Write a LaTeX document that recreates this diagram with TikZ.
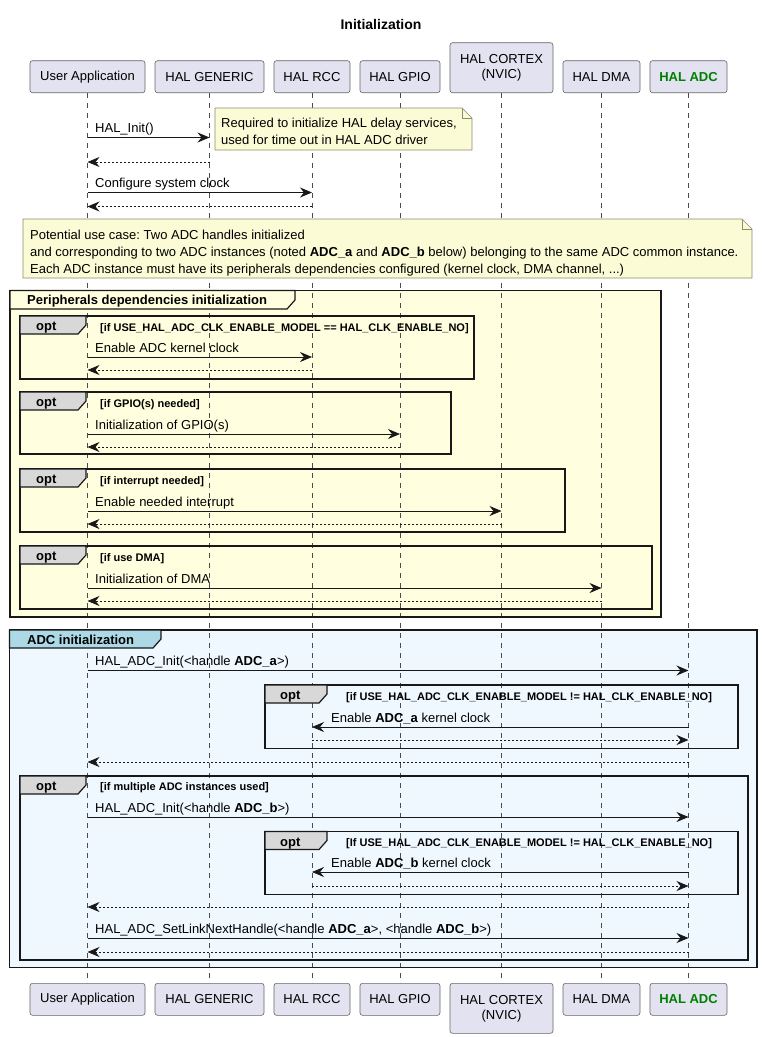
\documentclass[tikz,border=0pt]{standalone}
\usepackage{fontspec}
\setmainfont{Liberation Sans}
\usetikzlibrary{arrows.meta}
\frenchspacing

\definecolor{partfill}{HTML}{E2E2F0}
\definecolor{linegray}{HTML}{181818}
\definecolor{notefill}{HTML}{FBFBD5}
\definecolor{noteline}{HTML}{8C8C6E}
\definecolor{peripfill}{HTML}{FFFFE0}
\definecolor{adcfill}{HTML}{F0F8FF}
\definecolor{adctab}{HTML}{ADD8E6}
\definecolor{opttab}{HTML}{D8D8D8}
\definecolor{adcgreen}{HTML}{008000}

\begin{document}
\begin{tikzpicture}[x=1pt,y=-1pt,
  part/.style={draw=black!60, line width=0.6pt, fill=partfill, rounded corners=2.5pt,
    inner sep=0pt, minimum height=32pt, align=center, font=\fontsize{13}{15}\selectfont},
  life/.style={draw=black!70, line width=0.5pt, dash pattern=on 5pt off 5pt},
  call/.style={draw=linegray, line width=0.8pt, -{Stealth[length=12pt,width=10pt,inset=4pt]}},
  back/.style={call, dash pattern=on 2pt off 2pt},
  lbl/.style={anchor=base west, inner sep=0pt, font=\fontsize{13}{15}\selectfont},
  cond/.style={anchor=base west, inner sep=0pt, font=\fontsize{11}{13}\selectfont\bfseries},
  tabtext/.style={anchor=base west, inner sep=0pt, font=\fontsize{13}{15}\selectfont\bfseries},
  note/.style={draw=noteline, line width=0.6pt, fill=notefill},
  frame/.style={draw=linegray, line width=1.7pt},
  tab/.style={draw=linegray, line width=1.2pt}
]
  \useasboundingbox (0,0) rectangle (762,1037);

  \node[font=\fontsize{14}{16}\selectfont\bfseries] (title) at (381,24) {Initialization};

  % participants, top row
  \node[part, anchor=south, minimum width=115pt] (ua)     at (87.5,93)  {User Application};
  \node[part, anchor=south, minimum width=109pt] (gen)    at (209.5,93) {HAL GENERIC};
  \node[part, anchor=south, minimum width=76pt]  (rcc)    at (312,93)   {HAL RCC};
  \node[part, anchor=south, minimum width=80pt]  (gpio)   at (400,93)   {HAL GPIO};
  \node[part, anchor=south, minimum width=103pt, minimum height=50pt] (cortex) at (501.5,93) {HAL CORTEX\\(NVIC)};
  \node[part, anchor=south, minimum width=77pt]  (dma)    at (601.5,93) {HAL DMA};
  \node[part, anchor=south, minimum width=77pt, text=adcgreen, font=\fontsize{13}{15}\selectfont\bfseries] (adc) at (688.5,93) {HAL ADC};

  % participants, bottom row
  \node[part, anchor=north, minimum width=115pt] (ua2)     at (87.5,983)  {User Application};
  \node[part, anchor=north, minimum width=109pt] (gen2)    at (209.5,983) {HAL GENERIC};
  \node[part, anchor=north, minimum width=76pt]  (rcc2)    at (312,983)   {HAL RCC};
  \node[part, anchor=north, minimum width=80pt]  (gpio2)   at (400,983)   {HAL GPIO};
  \node[part, anchor=north, minimum width=103pt, minimum height=50pt] (cortex2) at (501.5,983) {HAL CORTEX\\(NVIC)};
  \node[part, anchor=north, minimum width=77pt]  (dma2)    at (601.5,983) {HAL DMA};
  \node[part, anchor=north, minimum width=77pt, text=adcgreen, font=\fontsize{13}{15}\selectfont\bfseries] (adc2) at (688.5,983) {HAL ADC};

  % group backgrounds
  \fill[peripfill] (10,290.5) rectangle (661,617);
  \fill[adcfill] (9.5,630) rectangle (757,967.5);

  % lifelines
  \foreach \p in {ua,gen,rcc,gpio,cortex,dma,adc}
    \draw[life] (\p) -- (\p2);

  % notes
  \draw[note] (215,108) -- (462,108) -- (472,118) -- (472,150) -- (215,150) -- cycle;
  \draw[noteline, line width=0.6pt] (462,108) -- (462,118) -- (472,118);
  \node[lbl] (n1a) at (221,127) {Required to initialize HAL delay services,};
  \node[lbl] (n1b) at (221,144) {used for time out in HAL ADC driver};

  \draw[note] (23,219) -- (742,219) -- (752,229) -- (752,278) -- (23,278) -- cycle;
  \draw[noteline, line width=0.6pt] (742,219) -- (742,229) -- (752,229);
  \node[lbl] (n2a) at (30,239) {Potential use case: Two ADC handles initialized};
  \node[lbl] (n2b) at (30,256) {and corresponding to two ADC instances (noted \textbf{ADC\_a} and \textbf{ADC\_b} below) belonging to the same ADC common instance.};
  \node[lbl] (n2c) at (30,273) {Each ADC instance must have its peripherals dependencies configured (kernel clock, DMA channel, ...)};

  \node[lbl] (m1) at (95,132.5) {HAL\_Init()};
  \draw[call] (ua |- 0,137.5) -- (gen |- 0,137.5);
  \draw[back] (gen |- 0,162) -- (ua |- 0,162);
  \node[lbl] (m2) at (95,187.5) {Configure system clock};
  \draw[call] (ua |- 0,192.5) -- (rcc |- 0,192.5);
  \draw[back] (rcc |- 0,206.5) -- (ua |- 0,206.5);

  % Peripherals dependencies initialization
  \draw[frame] (10,290.5) rectangle (661,617);
  \draw[tab, fill=peripfill] (10,290.5) -- (295,290.5) -- (295,300) -- (287,309) -- (10,309) -- cycle;
  \node[tabtext] (g1) at (27,304.5) {Peripherals dependencies initialization};

  \draw[frame] (20,316) rectangle (474,379);
  \draw[tab, fill=opttab] (20,316) -- (86,316) -- (86,325) -- (78,334) -- (20,334) -- cycle;
  \node[tabtext] (o1) at (36,330) {opt};
  \node[cond] (c1) at (100,331) {[if USE\_HAL\_ADC\_CLK\_ENABLE\_MODEL == HAL\_CLK\_ENABLE\_NO]};
  \node[lbl] (m3) at (95,352) {Enable ADC kernel clock};
  \draw[call] (ua |- 0,357) -- (rcc |- 0,357);
  \draw[back] (rcc |- 0,370) -- (ua |- 0,370);

  \draw[frame] (20,392) rectangle (451,454);
  \draw[tab, fill=opttab] (20,392) -- (86,392) -- (86,401) -- (78,410) -- (20,410) -- cycle;
  \node[tabtext] (o2) at (36,406) {opt};
  \node[cond] (c2) at (100,407) {[if GPIO(s) needed]};
  \node[lbl] (m4) at (95,429) {Initialization of GPIO(s)};
  \draw[call] (ua |- 0,434) -- (gpio |- 0,434);
  \draw[back] (gpio |- 0,447) -- (ua |- 0,447);

  \draw[frame] (20,469) rectangle (565,532);
  \draw[tab, fill=opttab] (20,469) -- (86,469) -- (86,478) -- (78,487) -- (20,487) -- cycle;
  \node[tabtext] (o3) at (36,483) {opt};
  \node[cond] (c3) at (100,484) {[if interrupt needed]};
  \node[lbl] (m5) at (95,506) {Enable needed interrupt};
  \draw[call] (ua |- 0,511) -- (cortex |- 0,511);
  \draw[back] (cortex |- 0,524) -- (ua |- 0,524);

  \draw[frame] (20,546) rectangle (652,609);
  \draw[tab, fill=opttab] (20,546) -- (86,546) -- (86,555) -- (78,564) -- (20,564) -- cycle;
  \node[tabtext] (o4) at (36,560) {opt};
  \node[cond] (c4) at (100,561) {[if use DMA]};
  \node[lbl] (m6) at (95,583) {Initialization of DMA};
  \draw[call] (ua |- 0,588) -- (dma |- 0,588);
  \draw[back] (dma |- 0,601) -- (ua |- 0,601);

  % ADC initialization
  \draw[frame] (9.5,630) rectangle (757,967.5);
  \draw[tab, fill=adctab] (9.5,630) -- (161,630) -- (161,639) -- (153,648) -- (9.5,648) -- cycle;
  \node[tabtext] (g2) at (27,644) {ADC initialization};
  \node[lbl] (m7) at (95,665.5) {HAL\_ADC\_Init(<handle \textbf{ADC\_a}>)};
  \draw[call] (ua |- 0,670.5) -- (adc |- 0,670.5);

  \draw[frame] (265,685) rectangle (738,748.5);
  \draw[tab, fill=opttab] (265,685) -- (327,685) -- (327,694) -- (319,703) -- (265,703) -- cycle;
  \node[tabtext] (o5) at (280,699.5) {opt};
  \node[cond] (c5) at (346,700) {[if USE\_HAL\_ADC\_CLK\_ENABLE\_MODEL != HAL\_CLK\_ENABLE\_NO]};
  \node[lbl] (m8) at (331,722) {Enable \textbf{ADC\_a} kernel clock};
  \draw[call] (adc |- 0,727) -- (rcc |- 0,727);
  \draw[back] (rcc |- 0,740) -- (adc |- 0,740);
  \draw[back] (adc |- 0,762) -- (ua |- 0,762);

  \draw[frame] (20,776) rectangle (748,960);
  \draw[tab, fill=opttab] (20,776) -- (86,776) -- (86,785) -- (78,794) -- (20,794) -- cycle;
  \node[tabtext] (o6) at (36,790) {opt};
  \node[cond] (c6) at (100,790.5) {[if multiple ADC instances used]};
  \node[lbl] (m9) at (95,812) {HAL\_ADC\_Init(<handle \textbf{ADC\_b}>)};
  \draw[call] (ua |- 0,817) -- (adc |- 0,817);

  \draw[frame] (265,831.5) rectangle (738,894.5);
  \draw[tab, fill=opttab] (265,831.5) -- (327,831.5) -- (327,840.5) -- (319,849.5) -- (265,849.5) -- cycle;
  \node[tabtext] (o7) at (280,846) {opt};
  \node[cond] (c7) at (346,846.5) {[If USE\_HAL\_ADC\_CLK\_ENABLE\_MODEL != HAL\_CLK\_ENABLE\_NO]};
  \node[lbl] (m10) at (331,867) {Enable \textbf{ADC\_b} kernel clock};
  \draw[call] (adc |- 0,872) -- (rcc |- 0,872);
  \draw[back] (rcc |- 0,886) -- (adc |- 0,886);
  \draw[back] (adc |- 0,907) -- (ua |- 0,907);

  \node[lbl] (m11) at (95,933) {HAL\_ADC\_SetLinkNextHandle(<handle \textbf{ADC\_a}>, <handle \textbf{ADC\_b}>)};
  \draw[call] (ua |- 0,938) -- (adc |- 0,938);
  \draw[back] (adc |- 0,952) -- (ua |- 0,952);
\end{tikzpicture}
\end{document}
